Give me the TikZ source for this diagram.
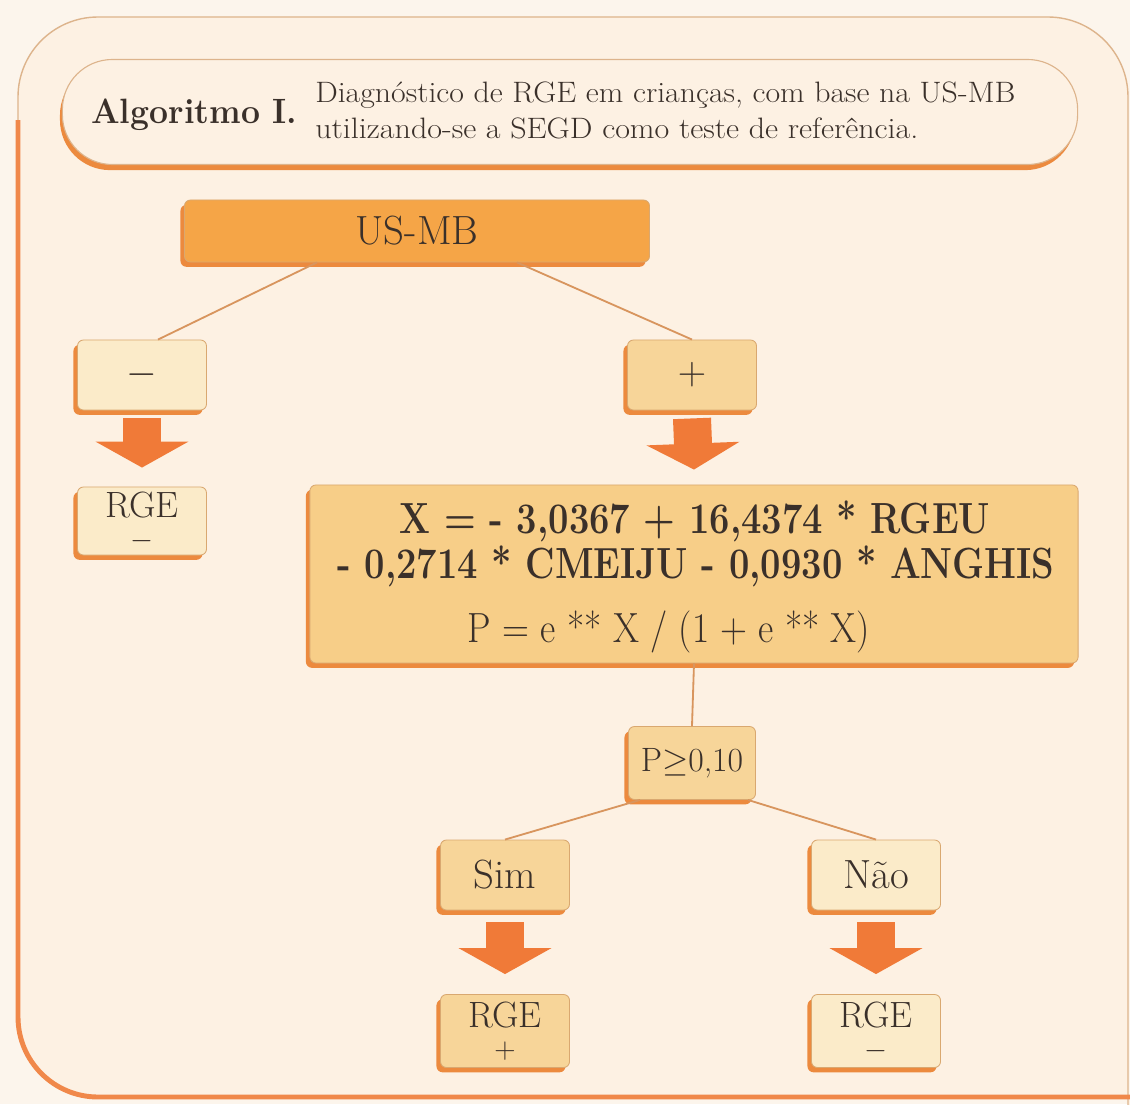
\RequirePackage{fix-cm}
\documentclass[tikz,border=0pt]{standalone}
\usepackage{fontspec}
\usepackage{graphicx}
\usetikzlibrary{shadows,arrows.meta,calc}
\definecolor{bgout}{HTML}{FCF5EC}
\definecolor{bgin}{HTML}{FDF1E3}
\definecolor{framethin}{HTML}{DDB48C}
\definecolor{frameorange}{HTML}{F0884A}
\definecolor{shadoworange}{HTML}{EC8A3E}
\definecolor{boxedge}{HTML}{D9A870}
\definecolor{paleb}{HTML}{FBEBC9}
\definecolor{tanb}{HTML}{F7D599}
\definecolor{formb}{HTML}{F7CE88}
\definecolor{usmbfill}{HTML}{F5A547}
\definecolor{arrowc}{HTML}{F07A38}
\definecolor{linec}{HTML}{D8955E}
\definecolor{txt}{HTML}{3A302A}
\tikzset{
  box/.style={draw=boxedge, line width=0.6pt, rounded corners=0.15cm,
    drop shadow={shadow xshift=-0.1cm, shadow yshift=-0.12cm, fill=shadoworange, opacity=1},
    text=txt, inner sep=0pt, align=center},
  smallbox/.style={box, minimum width=3.225cm, minimum height=1.75cm},
  palefill/.style={fill=paleb},
  tanfill/.style={fill=tanb},
  conn/.style={draw=linec, line width=1.3pt},
  bigarrow/.style={draw=arrowc, line width=0.95cm, -{Triangle[width=2.3cm,length=0.65cm]}},
  ftext/.style={text=txt, inner sep=0pt},
  big/.style={font=\fontsize{29}{31}\selectfont},
  mid/.style={font=\fontsize{24}{22}\selectfont},
  rgefont/.style={font=\fontsize{26}{21}\selectfont},
}
\newcommand{\smallsign}[1]{{\fontsize{21}{21}\selectfont$#1$}}
\begin{document}
\begin{tikzpicture}[x=0.025cm,y=-0.025cm]
\fill[bgout] (0,0) rectangle (1130,1104);
\useasboundingbox (0,0) rectangle (1130,1104);
% frame
\path[fill=bgin, draw=framethin, line width=1pt, rounded corners=2cm]
  (1128,1120) -- (1128,17) -- (18,17) -- (18,1097) -- (1145,1097);
\draw[frameorange, line width=3.5pt, rounded corners=2cm] (18,120) -- (18,1097) -- (1145,1097);
% title
\node[draw=framethin, fill=bgin, line width=0.8pt, rounded corners=1.25cm,
  minimum width=25.375cm, minimum height=2.625cm,
  drop shadow={shadow xshift=-0.06cm, shadow yshift=-0.14cm, fill=shadoworange, opacity=1}] (title) at (570,112) {};
\node[anchor=west, ftext, font=\fontsize{25}{28}\selectfont\bfseries] (alg) at (91,115)
  {\resizebox{5.15cm}{\height}{Algoritmo I.}};
\node[anchor=west, ftext, font=\fontsize{21}{24}\selectfont] (d1) at (315,95)
  {\resizebox{17.5cm}{\height}{Diagnóstico de RGE em crianças, com base na US-MB}};
\node[anchor=west, ftext, font=\fontsize{21}{24}\selectfont] (d2) at (315,128)
  {\resizebox{15.075cm}{\height}{utilizando-se a SEGD como teste de referência.}};
% nodes
\node[box, fill=usmbfill, minimum width=11.625cm, minimum height=1.55cm,
  font=\fontsize{29}{30}\selectfont] (usmb) at (417,231) {US-MB};
\node[smallbox, palefill, font=\fontsize{28}{30}\selectfont] (minus) at (142,375) {$-$};
\node[smallbox, tanfill, font=\fontsize{28}{30}\selectfont] (plus) at (692,375) {$+$};
\node[smallbox, palefill, minimum height=1.7cm, rgefont] (rgeL) at (142,521) {RGE\\[1pt]\smallsign{-}};
\node[box, fill=formb, minimum width=19.2cm, minimum height=4.45cm] (form) at (694,574) {};
\node[ftext, font=\fontsize{31}{33}\selectfont\bfseries] (f1) at (695,521)
  {\resizebox{14.75cm}{\height}{X = - 3,0367 + 16,4374 * RGEU}};
\node[ftext, font=\fontsize{31}{33}\selectfont\bfseries] (f2) at (696,566)
  {\resizebox{17.925cm}{\height}{- 0,2714 * CMEIJU - 0,0930 * ANGHIS}};
\node[ftext, font=\fontsize{30}{32}\selectfont] (f3) at (669,632)
  {\resizebox{10.05cm}{\height}{P = e ** X / (1 + e ** X)}};
\node[smallbox, tanfill, minimum width=3.175cm, minimum height=1.825cm, mid] (pbox) at (692,763) {P$\geq$0,10};
\node[smallbox, tanfill, big] (sim) at (505,875) {Sim};
\node[smallbox, palefill, big] (nao) at (876,875) {Não};
\node[smallbox, tanfill, minimum height=1.825cm, rgefont] (rgeP) at (505,1031) {RGE\\[1pt]\smallsign{+}};
\node[smallbox, palefill, minimum height=1.825cm, rgefont] (rgeN) at (876,1031) {RGE\\[1pt]\smallsign{-}};
% connectors
\draw[conn] ([xshift=-2.5cm]usmb.south) -- ([xshift=0.4cm]minus.north);
\draw[conn] ([xshift=2.5cm]usmb.south) -- (plus.north);
\draw[conn] (form.south) -- (pbox.north);
\draw[conn] ([xshift=-1.3cm]pbox.south) -- (sim.north);
\draw[conn] ([xshift=1.4cm]pbox.south) -- (nao.north);
% block arrows
\draw[bigarrow] ([yshift=-0.2cm]minus.south) -- ([yshift=0.475cm]rgeL.north);
\draw[bigarrow] ([yshift=-0.2cm]plus.south) -- ([yshift=0.375cm]form.north);
\draw[bigarrow] ([yshift=-0.3cm]sim.south) -- ([yshift=0.5cm]rgeP.north);
\draw[bigarrow] ([yshift=-0.3cm]nao.south) -- ([yshift=0.5cm]rgeN.north);
\end{tikzpicture}
\end{document}
